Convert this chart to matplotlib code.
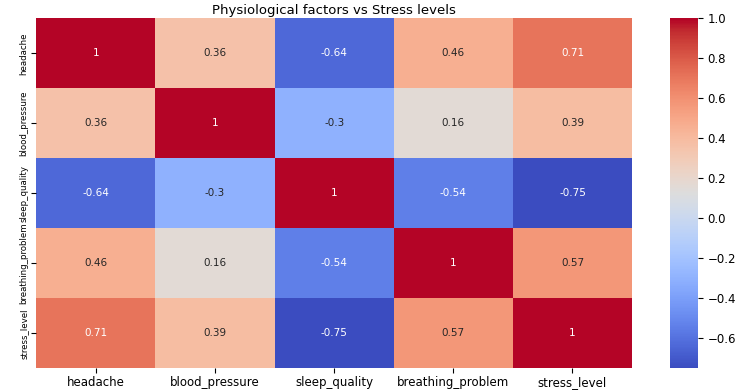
import matplotlib

matplotlib.use("Agg")
import matplotlib.pyplot as plt
import numpy as np
import seaborn as sns

factors = ["headache", "blood_pressure", "sleep_quality", "breathing_problem", "stress_level"]
corr = np.array([
    [1.00, 0.36, -0.64, 0.46, 0.71],
    [0.36, 1.00, -0.30, 0.16, 0.39],
    [-0.64, -0.30, 1.00, -0.54, -0.75],
    [0.46, 0.16, -0.54, 1.00, 0.57],
    [0.71, 0.39, -0.75, 0.57, 1.00],
])

fig = plt.figure(figsize=(7.41, 3.92), dpi=100)
ax = fig.add_axes([0.049, 0.06, 0.804, 0.893])
cax = fig.add_axes([0.904, 0.06, 0.038, 0.893])

sns.heatmap(corr, annot=True, cmap="coolwarm", ax=ax, cbar_ax=cax,
            xticklabels=factors, yticklabels=factors,
            annot_kws={"fontsize": 7.5})
ax.set_title("Physiological factors vs Stress levels", fontsize=9.5, pad=3)
ax.tick_params(axis="x", labelsize=8.5, rotation=0, pad=2)
ax.tick_params(axis="y", labelsize=6.2, rotation=90, pad=2)
for lbl in ax.get_yticklabels():
    lbl.set_va("center")
cax.tick_params(labelsize=8.5)

fig.savefig("out.png", dpi=100)
plt.close(fig)
